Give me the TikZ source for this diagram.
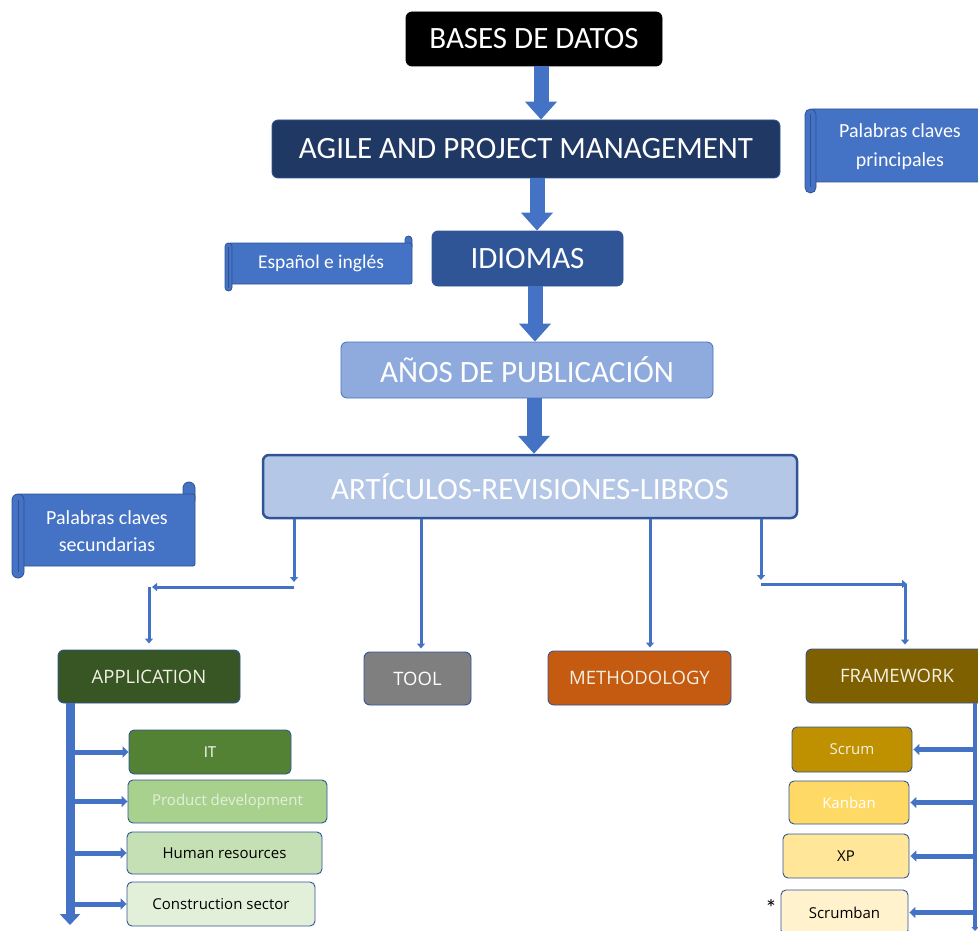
\documentclass[tikz,border=0pt]{standalone}
\usepackage{fontspec}
\setmainfont{Carlito}
\newfontfamily\osans{Open Sans}
\usetikzlibrary{arrows.meta}
\definecolor{arrowblue}{HTML}{4472C4}
\definecolor{scrollfill}{HTML}{4472C4}
\definecolor{scrollline}{HTML}{2F528F}
\definecolor{boxline}{HTML}{2F5597}
\definecolor{navyfill}{HTML}{203864}
\definecolor{idiofill}{HTML}{2F5597}
\definecolor{anosfill}{HTML}{8FAADC}
\definecolor{artfill}{HTML}{B4C7E7}
\definecolor{appfill}{HTML}{375623}
\definecolor{toolfill}{HTML}{7F7F7F}
\definecolor{methfill}{HTML}{C55A11}
\definecolor{framefill}{HTML}{7F6000}
\definecolor{itfill}{HTML}{548235}
\definecolor{prodfill}{HTML}{A9D18E}
\definecolor{humfill}{HTML}{C5E0B4}
\definecolor{consfill}{HTML}{E2F0D9}
\definecolor{scrumfill}{HTML}{BF9000}
\definecolor{kanbanfill}{HTML}{FFD966}
\definecolor{xpfill}{HTML}{FFE699}
\definecolor{scrumbanfill}{HTML}{FFF2CC}
\definecolor{lighttext}{HTML}{F4F0E4}

\newcommand\drawscroll[6]{%
  \draw[scrollpart, rounded corners=#6] ({#3-#5},{#2}) rectangle ({#3},{#2+2*#5});
  \draw[scrollpart, rounded corners=2pt] ({#1+#5/2},{#2+#5}) rectangle ({#3},{#4-#5});
  \draw[scrollpart, rounded corners=#6] ({#1},{#2+#5}) rectangle ({#1+#5},{#4});
  \draw[scrollline, line width=0.8pt] ({#1+#5/2},{#2+#5+#5/2}) -- ({#1+#5/2},{#4-#5/2});
}

\begin{document}
\begin{tikzpicture}[x=1pt,y=-1pt,
  scrollpart/.style={draw=scrollline, fill=scrollfill, line width=0.8pt},
  scrolltext/.style={text=white, align=center, font=\fontsize{20}{29}\selectfont, inner sep=0pt},
  topbox/.style={rounded corners=6pt, draw=boxline, line width=0.8pt, text=white,
    font=\fontsize{31}{36}\selectfont, inner sep=0pt},
  midbox/.style={rounded corners=6pt, draw=boxline, line width=0.9pt, text=lighttext,
    font=\osans\fontsize{18.5}{22}\selectfont, inner sep=0pt},
  subbox/.style={rounded corners=5pt, draw=boxline, line width=0.9pt,
    font=\osans\fontsize{15}{18}\selectfont, inner sep=0pt},
  fatarr/.style={draw=arrowblue, line width=15pt, -{Triangle[length=18pt,width=31pt]}},
  thinarr/.style={draw=arrowblue, line width=3pt, -{Triangle[length=5pt,width=8pt]}},
  bararr/.style={draw=arrowblue, line width=9pt, -{Triangle[length=11pt,width=20pt]}},
  fbararr/.style={draw=arrowblue, line width=4.5pt, -{Triangle[length=4pt,width=7pt]}},
  brancharr/.style={draw=arrowblue, line width=5pt, -{Triangle[length=6pt,width=11pt]}}
]
\useasboundingbox (0,0) rectangle (978,931);

% scrolls
\drawscroll{805}{98}{990}{193}{11}{5.5pt}
\node[scrolltext] (princ) at (900,147) {Palabras claves\\principales};
\drawscroll{225}{236}{412}{291}{7}{3.5pt}
\node[scrolltext, font=\fontsize{19.5}{24}\selectfont] (esp) at (321,263) {Español e inglés};
\drawscroll{12}{482}{195}{578}{12}{6pt}
\node[scrolltext, font=\fontsize{20}{27}\selectfont] (sec) at (107,531) {Palabras claves\\secundarias};

% main column
\node[topbox, fill=black, draw=black, minimum width=256pt, minimum height=54pt] (bases) at (534,39) {BASES DE DATOS};
\node[topbox, fill=navyfill, minimum width=508pt, minimum height=58pt] (agile) at (526,149) {AGILE AND PROJECT MANAGEMENT};
\node[topbox, fill=idiofill, minimum width=191pt, minimum height=55pt] (idiomas) at (527.5,258.5) {IDIOMAS};
\node[topbox, fill=anosfill, draw=arrowblue, minimum width=372pt, minimum height=56pt] (anos) at (527,370) {AÑOS DE PUBLICACIÓN};
\node[topbox, fill=artfill, line width=2.5pt, minimum width=534pt, minimum height=63pt] (art) at (530,486.5) {ARTÍCULOS-REVISIONES-LIBROS};

\draw[fatarr] ([xshift=7pt]bases.south) -- ([xshift=15pt]agile.north);
\draw[fatarr] ([xshift=11pt]agile.south) -- ([xshift=9.5pt]idiomas.north);
\draw[fatarr] ([xshift=7.5pt]idiomas.south) -- ([xshift=8pt]anos.north);
\draw[fatarr] ([xshift=7pt]anos.south) -- ([xshift=4pt]art.north);

% second level
\node[midbox, fill=appfill, minimum width=182pt, minimum height=53pt] (app) at (149,676.5) {APPLICATION};
\node[midbox, fill=toolfill, text=white, minimum width=107pt, minimum height=53pt] (tool) at (417.5,678.5) {TOOL};
\node[midbox, fill=methfill, minimum width=183pt, minimum height=54pt] (meth) at (639.5,678) {METHODOLOGY};
\node[midbox, fill=framefill, minimum width=182pt, minimum height=54pt] (frame) at (897,676) {FRAMEWORK};

% connectors from ARTICULOS
\coordinate (l1) at (294,582);
\coordinate (l2) at (294,587);
\coordinate (l3) at (152,587);
\coordinate (l4) at (149,587);
\draw[thinarr] ([xshift=-236pt]art.south) -- (l1);
\draw[thinarr] (l2) -- (l3);
\draw[thinarr] (l4) -- ([yshift=6pt]app.north);
\draw[thinarr] ([xshift=-109pt]art.south) -- ([xshift=3.5pt,yshift=3pt]tool.north);
\draw[thinarr] ([xshift=120pt]art.south) -- ([xshift=10.5pt,yshift=3pt]meth.north);
\coordinate (r1) at (761,580);
\coordinate (r2) at (761,584);
\coordinate (r3) at (907,584);
\coordinate (r4) at (905,584);
\draw[thinarr] ([xshift=231pt]art.south) -- (r1);
\draw[thinarr] (r2) -- (r3);
\draw[thinarr] (r4) -- ([xshift=8pt,yshift=4pt]frame.north);

% application children
\node[subbox, fill=itfill, text=white, minimum width=162pt, minimum height=44pt] (it) at (210,752) {IT};
\node[subbox, fill=prodfill, text=consfill, minimum width=199pt, minimum height=43pt] (prod) at (227.5,801.5) {Product development};
\node[subbox, fill=humfill, text=black, minimum width=195pt, minimum height=42pt] (hum) at (224.5,853) {Human resources};
\node[subbox, fill=consfill, text=black, minimum width=188pt, minimum height=44pt] (cons) at (221,904) {Construction sector};

\coordinate (abot) at (70,925);
\draw[bararr] ([xshift=-79pt]app.south) -- (abot);
\coordinate (ax) at (73,0);
\draw[brancharr] (ax |- it.west) -- (it.west);
\draw[brancharr] (ax |- prod.west) -- (prod.west);
\draw[brancharr] (ax |- hum.west) -- (hum.west);
\draw[brancharr] (ax |- cons.west) -- (cons.west);

% framework children
\node[subbox, fill=scrumfill, text=lighttext, minimum width=120pt, minimum height=45pt] (scrum) at (852,749.5) {Scrum};
\node[subbox, fill=kanbanfill, text=white, minimum width=120pt, minimum height=43pt] (kanban) at (849,802.5) {Kanban};
\node[subbox, fill=xpfill, text=black, minimum width=126pt, minimum height=44pt] (xp) at (846,856) {XP};
\node[subbox, fill=scrumbanfill, text=black, minimum width=127pt, minimum height=45pt] (scrumban) at (844.5,912.5) {Scrumban};
\node[font=\fontsize{24}{26}\selectfont, inner sep=0pt] (star) at (771,908) {*};

\coordinate (fbot) at (975,931);
\draw[fbararr] ([xshift=78pt]frame.south) -- (fbot);
\coordinate (fx) at (974,0);
\draw[brancharr] (fx |- scrum.east) -- ([xshift=1pt]scrum.east);
\draw[brancharr] (fx |- kanban.east) -- ([xshift=1pt]kanban.east);
\draw[brancharr] (fx |- xp.east) -- ([xshift=1pt]xp.east);
\draw[brancharr] (fx |- scrumban.east) -- ([xshift=1pt]scrumban.east);
\end{tikzpicture}
\end{document}
